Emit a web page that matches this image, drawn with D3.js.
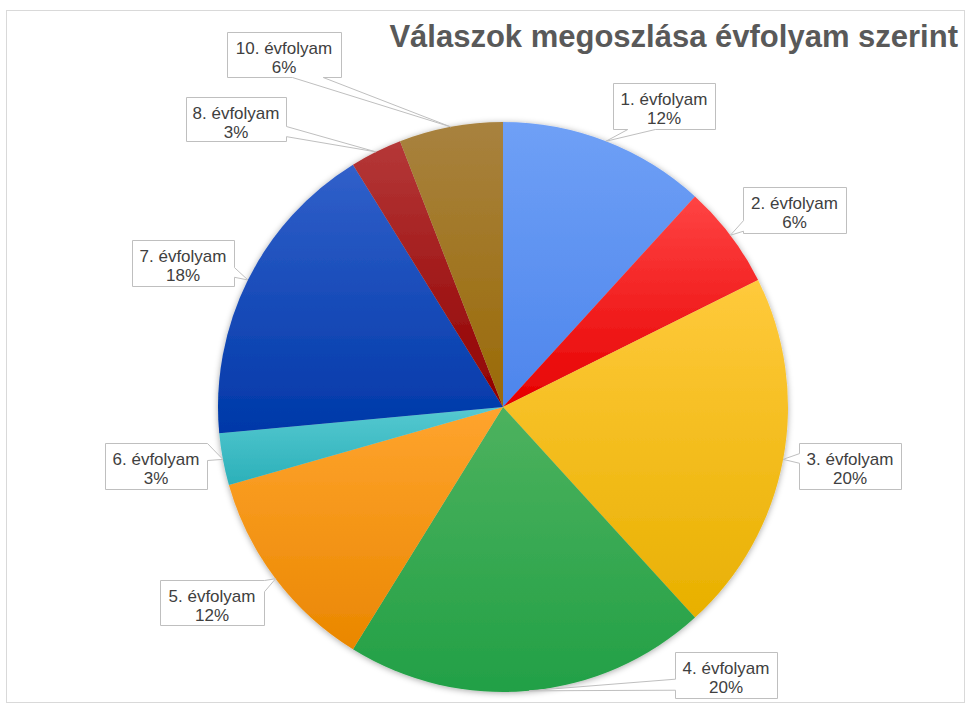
<!DOCTYPE html>
<html>
<head>
<meta charset="utf-8">
<script src="https://d3js.org/d3.v7.min.js"></script>
<style>
  body { margin: 0; background: #fff; }
  text { font-family: "Liberation Sans", Arial, sans-serif; }
</style>
</head>
<body>
<div id="chart"></div>
<script>
// data
var grades = ["1. évfolyam", "2. évfolyam", "3. évfolyam", "4. évfolyam", "5. évfolyam",
              "6. évfolyam", "7. évfolyam", "8. évfolyam", "10. évfolyam"];
var counts = [4, 2, 7, 7, 4, 1, 6, 1, 2];
var pctLabels = ["12%", "6%", "20%", "20%", "12%", "3%", "18%", "3%", "6%"];

// slice colours, top and bottom of each gradient
var topColors = ["#6fa0f6", "#ff4444", "#ffca3c", "#4db25e", "#ffa42e", "#56c9d1", "#3160ca", "#b53838", "#a8823f"];
var botColors = ["#4d85ec", "#e60000", "#e8b000", "#22a046", "#ea8700", "#2bb0b9", "#0038a8", "#900000", "#9a6a06"];

// label box layout (dragged by hand in the original)
var boxes = [
  {x: 613, y: 83,  w: 102, h: 46, side: "bottom", f0: 0.14, f1: 0.41},
  {x: 743, y: 187, w: 103, h: 46, side: "left",   f0: 0.72, f1: 0.95},
  {x: 799, y: 443, w: 102, h: 46, side: "left",   f0: 0.22, f1: 0.43},
  {x: 675, y: 652, w: 102, h: 46, side: "left",   f0: 0.58, f1: 0.82},
  {x: 160, y: 580, w: 104, h: 45, side: "right",  f0: 0.0,  f1: 0.25},
  {x: 105, y: 443, w: 102, h: 46, side: "right",  f0: 0.0,  f1: 0.37},
  {x: 132, y: 240, w: 102, h: 46, side: "right",  f0: 0.59, f1: 0.80},
  {x: 186, y: 97,  w: 100, h: 44, side: "right",  f0: 0.66, f1: 0.89},
  {x: 227, y: 32,  w: 114, h: 45, side: "bottom", f0: 0.57, f1: 0.84}
];

var W = 970, H = 708;
var cx = 503, cy = 407, r = 285;

var svg = d3.select("#chart").append("svg")
  .attr("width", W).attr("height", H);

// chart area border
svg.append("rect")
  .attr("x", 6.5).attr("y", 10.5)
  .attr("width", 958).attr("height", 692)
  .attr("fill", "#fff")
  .attr("stroke", "#d9d9d9");

var defs = svg.append("defs");
grades.forEach(function(g, i) {
  var lg = defs.append("linearGradient")
    .attr("id", "grad" + i)
    .attr("x1", 0).attr("y1", 0).attr("x2", 0).attr("y2", 1);
  lg.append("stop").attr("offset", "0%").attr("stop-color", topColors[i]);
  lg.append("stop").attr("offset", "100%").attr("stop-color", botColors[i]);
});
var shadow = defs.append("filter").attr("id", "shadow")
  .attr("x", "-10%").attr("y", "-10%").attr("width", "120%").attr("height", "120%");
shadow.append("feDropShadow")
  .attr("dx", 0).attr("dy", 1).attr("stdDeviation", 3)
  .attr("flood-color", "#000").attr("flood-opacity", 0.35);

// title
svg.append("text")
  .attr("x", 958).attr("y", 47)
  .attr("text-anchor", "end")
  .attr("font-size", 31)
  .attr("font-weight", "bold")
  .attr("fill", "#595959")
  .text("Válaszok megoszlása évfolyam szerint");

var pie = d3.pie().sort(null).value(function(d) { return d; });
var arcs = pie(counts);
var arc = d3.arc().innerRadius(0).outerRadius(r);

var g = svg.append("g")
  .attr("transform", "translate(" + cx + "," + cy + ")");

g.append("g").attr("filter", "url(#shadow)")
  .selectAll("path")
  .data(arcs)
  .enter().append("path")
    .attr("d", arc)
    .attr("fill", function(d, i) { return "url(#grad" + i + ")"; });

// callout shape: box with a wedge pointing at the slice edge
function callout(b, tx, ty) {
  var x = b.x + 0.5, y = b.y + 0.5, w = b.w, h = b.h;
  var p = d3.path();
  p.moveTo(x, y);
  if (b.side === "top") { p.lineTo(x + w * b.f0, y); p.lineTo(tx, ty); p.lineTo(x + w * b.f1, y); }
  p.lineTo(x + w, y);
  if (b.side === "right") { p.lineTo(x + w, y + h * b.f0); p.lineTo(tx, ty); p.lineTo(x + w, y + h * b.f1); }
  p.lineTo(x + w, y + h);
  if (b.side === "bottom") { p.lineTo(x + w * b.f1, y + h); p.lineTo(tx, ty); p.lineTo(x + w * b.f0, y + h); }
  p.lineTo(x, y + h);
  if (b.side === "left") { p.lineTo(x, y + h * b.f1); p.lineTo(tx, ty); p.lineTo(x, y + h * b.f0); }
  p.closePath();
  return p.toString();
}

var labels = svg.append("g");
arcs.forEach(function(d, i) {
  var mid = (d.startAngle + d.endAngle) / 2;
  var tx = cx + r * Math.sin(mid), ty = cy - r * Math.cos(mid);
  var b = boxes[i];
  labels.append("path")
    .attr("d", callout(b, tx, ty))
    .attr("fill", "#fff")
    .attr("stroke", "#bfbfbf")
    .attr("stroke-width", 1);
  var t = labels.append("text")
    .attr("text-anchor", "middle")
    .attr("font-size", 17)
    .attr("fill", "#404040");
  t.append("tspan").attr("x", b.x + b.w / 2).attr("y", b.y + 22).text(grades[i]);
  t.append("tspan").attr("x", b.x + b.w / 2).attr("y", b.y + 41).text(pctLabels[i]);
});
</script>
</body>
</html>
